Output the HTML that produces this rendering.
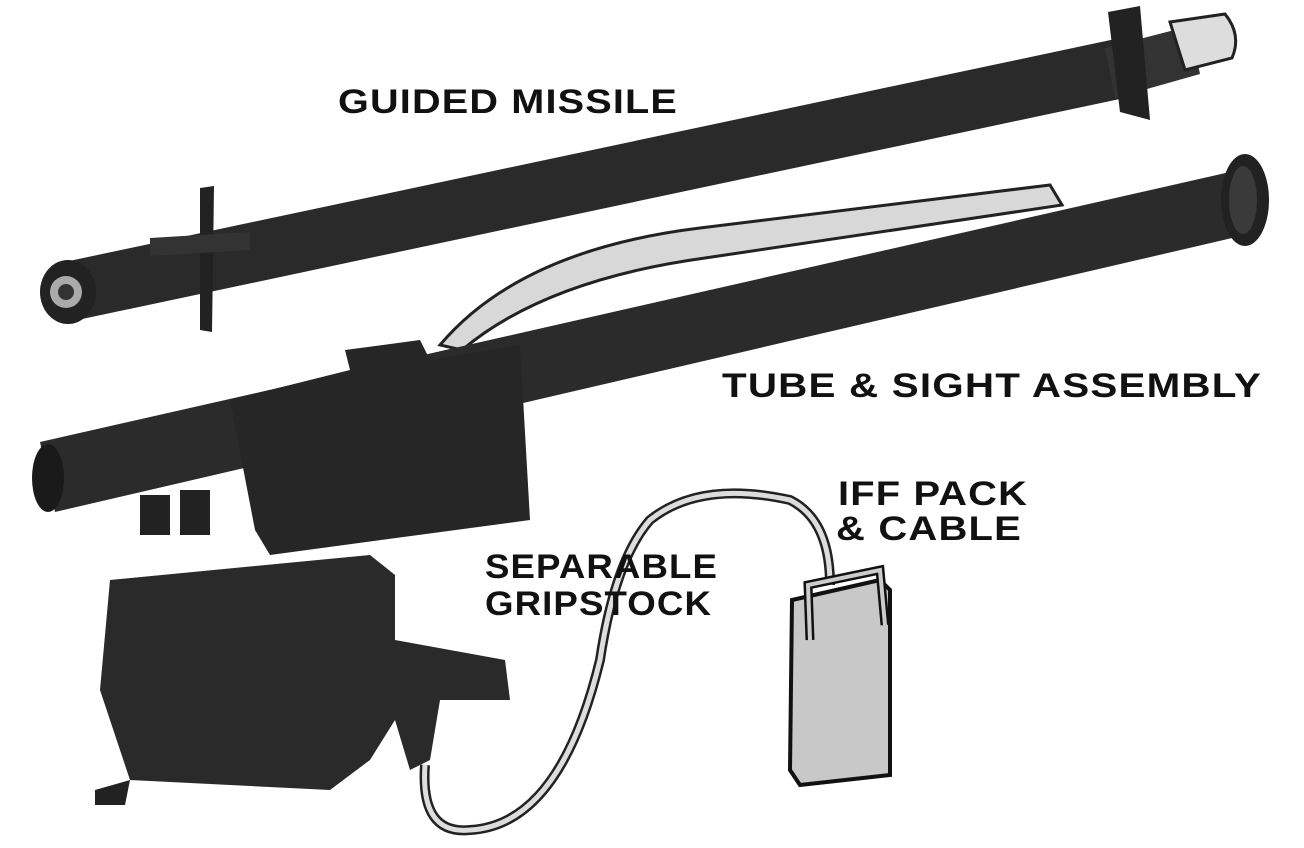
<!DOCTYPE html>
<html><head><meta charset="utf-8"><style>
html,body{margin:0;padding:0;background:#fff;}
svg{display:block;}
text{font-family:"Liberation Sans",sans-serif;font-weight:bold;fill:#111;font-size:34px;}
</style></head><body>
<svg width="1304" height="848" viewBox="0 0 1304 848" xmlns="http://www.w3.org/2000/svg">
<rect width="1304" height="848" fill="#fff"/>
<!-- missile -->
<path d="M55,264 L1120,38 L1134,96 L68,322 Z" fill="#2a2a2a"/>
<path d="M1105,48 L1190,26 L1200,74 L1115,98 Z" fill="#333"/>
<path d="M1170,22 L1225,14 Q1242,35 1232,58 L1185,70 Z" fill="#ddd" stroke="#222" stroke-width="3"/>
<path d="M1108,12 L1140,6 L1150,120 L1120,112 Z" fill="#222"/>
<ellipse cx="68" cy="292" rx="28" ry="32" fill="#222"/>
<circle cx="66" cy="292" r="16" fill="#aaa"/>
<circle cx="66" cy="292" r="8" fill="#333"/>
<path d="M200,188 L214,186 L212,332 L200,330 Z" fill="#222"/>
<path d="M150,238 L250,232 L250,250 L150,256 Z" fill="#333"/>
<!-- light cable band -->
<path d="M440,345 Q520,250 700,228 L1050,185 L1062,205 L705,258 Q545,280 462,350 Z" fill="#d8d8d8" stroke="#222" stroke-width="3"/>
<!-- tube -->
<path d="M40,442 L1230,172 L1245,235 L55,512 Z" fill="#2b2b2b"/>
<ellipse cx="1245" cy="200" rx="24" ry="46" fill="#222"/>
<ellipse cx="1243" cy="200" rx="14" ry="34" fill="#3a3a3a"/>
<ellipse cx="48" cy="478" rx="16" ry="34" fill="#1a1a1a"/>
<!-- sight assembly -->
<path d="M230,400 L350,370 L345,350 L420,340 L430,360 L520,345 L530,520 L270,555 L255,530 Z" fill="#262626"/>
<rect x="140" y="495" width="30" height="40" fill="#222"/>
<rect x="180" y="490" width="30" height="45" fill="#222"/>
<!-- gripstock -->
<path d="M110,580 L370,555 L395,575 L395,640 L505,660 L510,700 L440,700 L430,760 L410,770 L395,720 L370,760 L330,790 L130,780 L100,690 Z" fill="#2a2a2a"/>
<path d="M95,790 L130,780 L125,805 L95,805 Z" fill="#222"/>
<!-- cables -->
<path d="M425,765 Q420,835 470,830 Q560,825 600,660 Q615,560 650,520 Q700,480 790,500 Q830,520 830,585" fill="none" stroke="#222" stroke-width="10"/>
<path d="M425,765 Q420,835 470,830 Q560,825 600,660 Q615,560 650,520 Q700,480 790,500 Q830,520 830,585" fill="none" stroke="#ddd" stroke-width="5"/>
<!-- IFF pack -->
<path d="M792,600 L880,580 L890,590 L890,775 L800,785 L790,770 Z" fill="#c8c8c8" stroke="#111" stroke-width="4"/>
<path d="M810,640 L808,585 L880,570 L885,625" fill="none" stroke="#111" stroke-width="9"/>
<path d="M810,640 L808,585 L880,570 L885,625" fill="none" stroke="#ccc" stroke-width="4"/>
<g style="letter-spacing:1px">
<text x="338" y="113" textLength="340" lengthAdjust="spacingAndGlyphs">GUIDED MISSILE</text>
<text x="722" y="397" textLength="540" lengthAdjust="spacingAndGlyphs">TUBE &amp; SIGHT ASSEMBLY</text>
<text x="838" y="505" textLength="190" lengthAdjust="spacingAndGlyphs">IFF PACK</text>
<text x="836" y="540" textLength="186" lengthAdjust="spacingAndGlyphs">&amp; CABLE</text>
<text x="485" y="578" textLength="233" lengthAdjust="spacingAndGlyphs">SEPARABLE</text>
<text x="485" y="615" textLength="227" lengthAdjust="spacingAndGlyphs">GRIPSTOCK</text>
</g>
</svg>
</body></html>
